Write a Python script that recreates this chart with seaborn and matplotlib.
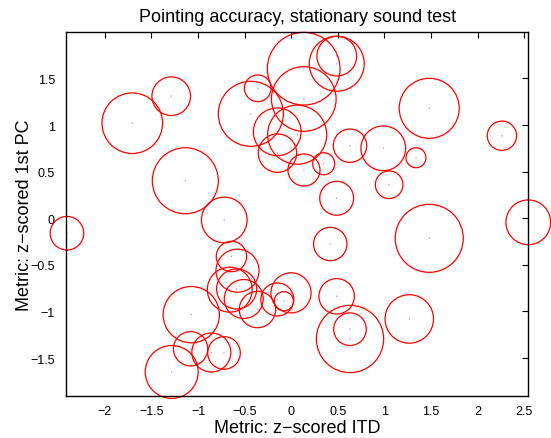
import matplotlib
matplotlib.use("Agg")
import matplotlib.pyplot as plt
import matplotlib.ticker as mticker
import seaborn as sns
import numpy as np
import pandas as pd

# ---- data ----
itd_z = [-1.706, -1.288, -1.137, -0.434, -0.360, 0.133, 0.488, 0.488, 0.134, -0.151,
         0.063, -0.148, 0.136, 0.348, 0.630, 0.987, 1.050, 0.487, 1.480, 2.260,
         1.338, 1.480, 2.543, 0.418, 0.487, 1.266, 0.630, 0.630, -0.003, -0.080,
         -2.407, -0.719, -1.073, -1.080, -0.858, -0.722, -1.283, -0.642, -0.577, -0.660,
         -0.586, -0.510, -0.363, -0.150]
pc1_z = [1.020, 1.310, 0.403, 1.121, 1.395, 1.605, 1.658, 1.740, 1.280, 0.928,
         0.897, 0.699, 0.518, 0.585, 0.779, 0.751, 0.360, 0.215, 1.180, 0.886,
         0.650, -0.215, -0.043, -0.276, -0.837, -1.080, -1.295, -1.190, -0.800, -0.890,
         -0.160, -0.018, -1.034, -1.400, -1.440, -1.445, -1.649, -0.410, -0.562, -0.766,
         -0.758, -0.866, -0.979, -0.871]
error_radius = [0.325, 0.207, 0.354, 0.349, 0.143, 0.390, 0.295, 0.213, 0.347, 0.256,
                0.317, 0.206, 0.172, 0.118, 0.179, 0.240, 0.148, 0.182, 0.322, 0.157,
                0.107, 0.365, 0.240, 0.179, 0.190, 0.260, 0.361, 0.175, 0.215, 0.103,
                0.180, 0.245, 0.302, 0.184, 0.209, 0.175, 0.284, 0.163, 0.231, 0.241,
                0.215, 0.209, 0.195, 0.177]

x_ticks = [-2, -1.5, -1, -0.5, 0, 0.5, 1, 1.5, 2, 2.5]
y_ticks = [-1.5, -1, -0.5, 0, 0.5, 1, 1.5]

title = "Pointing accuracy, stationary sound test"
x_label = "Metric: z\u2212scored ITD"
y_label = "Metric: z\u2212scored 1st PC"

df = pd.DataFrame({"itd": itd_z, "pc": pc1_z, "r": error_radius})

sns.set_theme(style="white")
plt.rcParams["font.family"] = ["Liberation Sans", "DejaVu Sans"]
plt.rcParams["axes.unicode_minus"] = True

fig = plt.figure(figsize=(5.51, 4.39), dpi=100)
ax = fig.add_axes([0.1198, 0.095, 0.9588 - 0.1198, 0.9255 - 0.095])
ax.set_xlim(-2.417, 2.543)
ax.set_ylim(-1.910, 2.002)

# convert radius in data units to marker area in points^2
p0 = ax.transData.transform((0, 0))
p1 = ax.transData.transform((1, 0))
px_per_unit = p1[0] - p0[0]
diam_pt = 2 * df["r"].to_numpy() * px_per_unit * 72.0 / fig.dpi
sizes = diam_pt ** 2

sns.scatterplot(data=df, x="itd", y="pc", s=sizes, marker="o",
                facecolor="none", edgecolor="#ff0000", linewidth=0.9,
                ax=ax, legend=False, zorder=3, clip_on=False)
sns.scatterplot(data=df, x="itd", y="pc", s=1.2, marker="o",
                color="#a0a8ff", edgecolor="none", ax=ax, legend=False, zorder=2,
                clip_on=False)

ax.set_xlim(-2.417, 2.543)
ax.set_ylim(-1.910, 2.002)
ax.set_xticks(x_ticks)
ax.set_yticks(y_ticks)
fmt = mticker.FuncFormatter(lambda v, p: ("%g" % v).replace("-", "\u2212"))
ax.xaxis.set_major_formatter(fmt)
ax.yaxis.set_major_formatter(fmt)
ax.tick_params(direction="in", length=4.5, width=0.8, colors="black",
               top=True, right=True, labelsize=9)
ax.tick_params(axis="x", pad=6)
ax.tick_params(axis="y", pad=8)
for s in ax.spines.values():
    s.set_visible(True)
    s.set_color("black")
    s.set_linewidth(1.0)
    s.set_zorder(4)
ax.grid(False)
ax.set_facecolor("white")

ax.set_title(title, fontsize=13, pad=8, color="black")
ax.set_xlabel(x_label, fontsize=13, labelpad=2, color="black")
ax.set_ylabel(y_label, fontsize=13, color="black")
ax.yaxis.set_label_coords(-0.072, 0.5)

fig.savefig("out.png", dpi=100, facecolor="white")
